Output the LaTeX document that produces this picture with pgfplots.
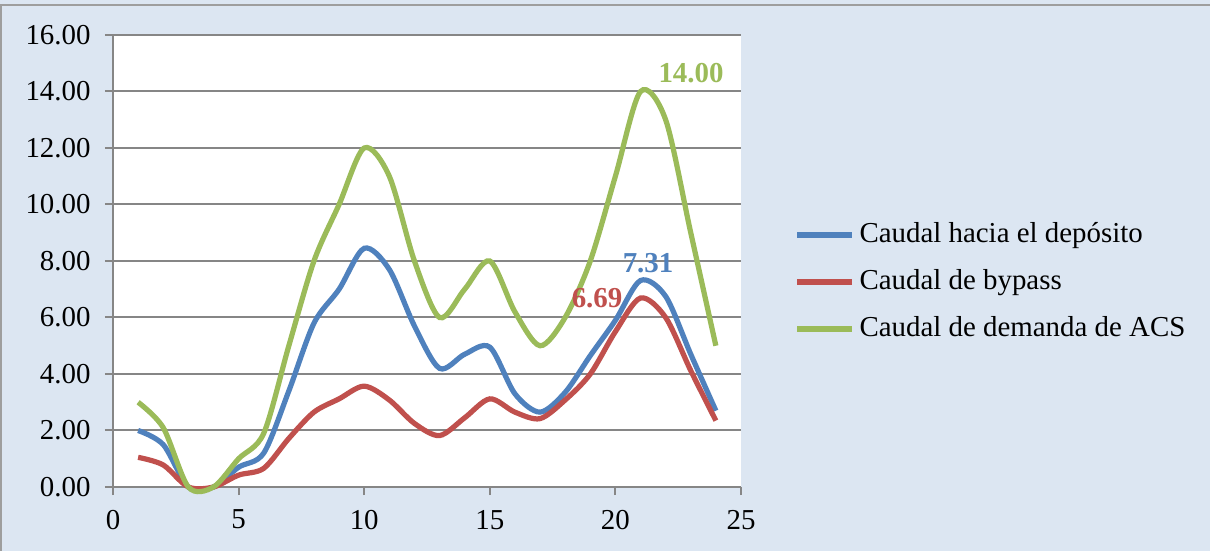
\documentclass[border=0pt]{standalone}
\usepackage{pgfplots}
\pgfplotsset{compat=1.18}
\usepackage{fontspec}
\setmainfont{Liberation Serif}
\definecolor{bg}{RGB}{220,230,242}
\definecolor{gridc}{RGB}{134,134,134}
\definecolor{cblue}{RGB}{79,129,189}
\definecolor{cred}{RGB}{192,80,77}
\definecolor{cgreen}{RGB}{155,187,89}
\begin{document}
\begin{tikzpicture}
\path[use as bounding box] (0,0) rectangle (605bp,275.5bp);
\fill[bg] (0,0) rectangle (605bp,275.5bp);
\draw[gridc!80, line width=1bp] (0.5bp,-5bp) -- (0.5bp,273bp) -- (615bp,273bp);
\begin{axis}[
  at={(56.5bp,32bp)}, anchor=south west,
  scale only axis, width=314bp, height=226bp,
  xmin=0, xmax=25, ymin=0, ymax=16,
  xtick={0,5,...,25}, ytick={0,2,...,16},
  axis x line*=bottom, axis y line*=left,
  axis line style={-, gridc, line width=1bp},
  ymajorgrids, major grid style={gridc, line width=1bp},
  tick align=outside, major tick length=4bp,
  tick style={gridc, line width=1bp},
  axis background/.style={fill=white},
  every tick label/.append style={font=\fontsize{14.5}{17}\selectfont, text=black},
  yticklabel style={/pgf/number format/fixed, /pgf/number format/fixed zerofill, /pgf/number format/precision=2, xshift=-3.7bp},
  xticklabel style={yshift=-4bp},
  /pgf/number format/assume math mode=true,
  clip=false,
  legend image code/.code={\draw[#1] (0bp,0bp) -- (27.5bp,0bp);},
  legend cell align=left,
  legend style={at={(1.0844,0.4536)}, anchor=west, draw=none, fill=none,
    inner sep=0pt, row sep=9bp,
    font=\fontsize{14.5}{17}\selectfont,
    nodes={inner sep=0pt, text height=11bp, text depth=3.5bp},
    /tikz/every odd column/.append style={column sep=2.5bp}},
]
\addplot[cblue, line width=2.6bp, smooth, tension=0.5] coordinates {
(1,2.0) (2,1.5) (3,0) (4,0) (5,0.7) (6,1.2) (7,3.4) (8,5.8) (9,7.0) (10,8.45)
(11,7.7) (12,5.7) (13,4.2) (14,4.7) (15,4.95) (16,3.3) (17,2.65) (18,3.35)
(19,4.65) (20,5.9) (21,7.31) (22,6.75) (23,4.7) (24,2.7)};
\addlegendentry{Caudal hacia el depósito}
\addplot[cred, line width=2.6bp, smooth, tension=0.5] coordinates {
(1,1.05) (2,0.78) (3,0) (4,0) (5,0.42) (6,0.66) (7,1.72) (8,2.65) (9,3.12) (10,3.57)
(11,3.08) (12,2.25) (13,1.82) (14,2.45) (15,3.12) (16,2.65) (17,2.42) (18,3.08)
(19,4.0) (20,5.5) (21,6.69) (22,6.0) (23,4.12) (24,2.35)};
\addlegendentry{Caudal de bypass}
\addplot[cgreen, line width=2.6bp, smooth, tension=0.5] coordinates {
(1,3) (2,2.1) (3,0) (4,0) (5,1) (6,1.9) (7,5) (8,8) (9,10) (10,12)
(11,11) (12,8) (13,6) (14,7) (15,8) (16,6.2) (17,5) (18,6)
(19,8) (20,11) (21,14) (22,13) (23,9) (24,5)};
\addlegendentry{Caudal de demanda de ACS}
\node[font=\fontsize{14.5}{17}\selectfont\bfseries, text=cgreen, anchor=west, inner sep=0pt] at (axis cs:21.7,14.65) {14.00};
\node[font=\fontsize{14.5}{17}\selectfont\bfseries, text=cblue, inner sep=0pt] at (axis cs:21.3,7.93) {7.31};
\node[font=\fontsize{14.5}{17}\selectfont\bfseries, text=cred, inner sep=0pt] at (axis cs:19.27,6.69) {6.69};
\end{axis}
\end{tikzpicture}
\end{document}
